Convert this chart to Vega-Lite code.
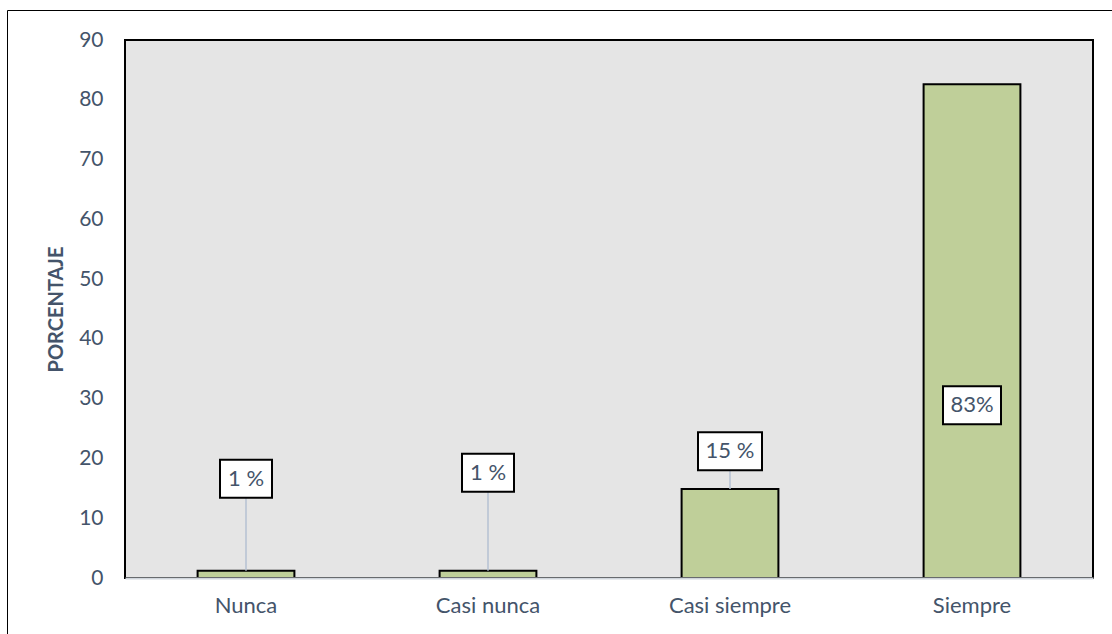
{
  "$schema": "https://vega.github.io/schema/vega-lite/v6.json",
  "width": 968,
  "height": 538,
  "autosize": {"type": "none"},
  "padding": {"left": 125, "top": 40, "right": 19, "bottom": 56},
  "background": "white",
  "config": {
    "view": {"fill": "#e5e5e5", "stroke": "black", "strokeWidth": 2},
    "font": "Lato"
  },
  "data": {
    "values": [
      {"categoria": "Nunca", "porcentaje": 1.2, "etiqueta": "1 %", "pos_etiqueta": 16.6},
      {"categoria": "Casi nunca", "porcentaje": 1.2, "etiqueta": "1 %", "pos_etiqueta": 17.6},
      {"categoria": "Casi siempre", "porcentaje": 14.9, "etiqueta": "15 %", "pos_etiqueta": 21.2},
      {"categoria": "Siempre", "porcentaje": 82.6, "etiqueta": "83%", "pos_etiqueta": 28.9}
    ]
  },
  "encoding": {
    "x": {
      "field": "categoria",
      "type": "nominal",
      "sort": null,
      "scale": {"paddingInner": 0.6, "paddingOuter": 0.3},
      "axis": {
        "title": null,
        "labelAngle": 0,
        "ticks": false,
        "labelPadding": 17,
        "labelFontSize": 22,
        "labelColor": "#44546a",
        "labelFont": "Lato",
        "domainColor": "#d0d5dc",
        "domainWidth": 2,
        "zindex": 1
      }
    }
  },
  "layer": [
    {
      "mark": {"type": "bar", "stroke": "black", "strokeWidth": 2},
      "encoding": {
        "y": {
          "field": "porcentaje",
          "type": "quantitative",
          "title": "PORCENTAJE",
          "scale": {"domain": [0, 90], "nice": false},
          "axis": {
            "values": [0, 10, 20, 30, 40, 50, 60, 70, 80, 90],
            "grid": false,
            "domain": false,
            "ticks": false,
            "labelPadding": 22,
            "labelFontSize": 21,
            "labelColor": "#44546a",
            "labelFont": "Lato",
            "titleFont": "Lato",
            "titleFontSize": 20,
            "titleFontWeight": "bold",
            "titleColor": "#44546a",
            "titlePadding": 12
          }
        },
        "fill": {
          "datum": "Porcentaje",
          "scale": {"range": ["#bfcf99"]},
          "legend": {
            "orient": "none",
            "legendX": -118,
            "legendY": -30,
            "title": null,
            "strokeColor": "black",
            "padding": 900,
            "symbolOpacity": 0,
            "labelOpacity": 0,
            "labelExpr": "''"
          }
        }
      }
    },
    {
      "transform": [{"filter": "datum.porcentaje < datum.pos_etiqueta"}],
      "mark": {"type": "rule", "color": "#b4c1d2", "strokeWidth": 1.5},
      "encoding": {
        "y": {"field": "pos_etiqueta", "type": "quantitative", "title": "PORCENTAJE"},
        "y2": {"field": "porcentaje"}
      }
    },
    {
      "mark": {"type": "point", "filled": true, "fill": "white", "stroke": "black", "strokeWidth": 2, "opacity": 1, "size": 4},
      "encoding": {
        "y": {"field": "pos_etiqueta", "type": "quantitative", "title": "PORCENTAJE"},
        "shape": {
          "field": "etiqueta",
          "type": "nominal",
          "legend": null,
          "scale": {
            "domain": ["1 %", "15 %", "83%"],
            "range": [
              "M-26,-19L26,-19L26,19L-26,19Z",
              "M-32,-19L32,-19L32,19L-32,19Z",
              "M-29,-19L29,-19L29,19L-29,19Z"
            ]
          }
        }
      }
    },
    {
      "mark": {"type": "text", "fontSize": 22, "color": "#44546a", "font": "Lato", "baseline": "middle", "align": "center"},
      "encoding": {
        "y": {"field": "pos_etiqueta", "type": "quantitative", "title": "PORCENTAJE"},
        "text": {"field": "etiqueta"}
      }
    }
  ]
}
